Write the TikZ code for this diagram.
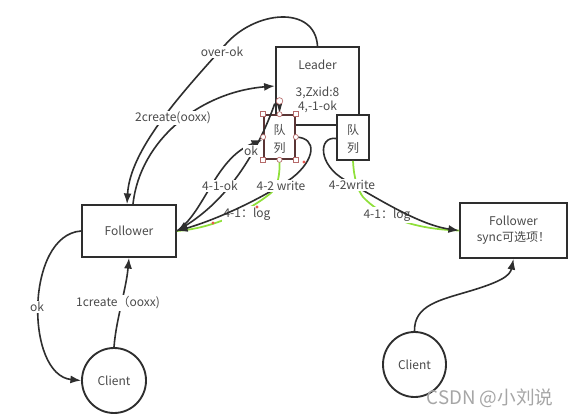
\documentclass[tikz,border=0pt]{standalone}
\usepackage{fontspec}
\setmainfont{Noto Sans CJK SC}
\usetikzlibrary{arrows.meta,shapes.geometric,calc}
\definecolor{ln}{HTML}{2E2E2E}
\definecolor{tx}{HTML}{4A4A4A}
\definecolor{grn}{HTML}{8FE03A}
\definecolor{selb}{HTML}{5A3535}
\definecolor{hnd}{HTML}{B56A6A}
\definecolor{rdot}{HTML}{E8584F}
\begin{document}
\begin{tikzpicture}[x=0.75pt,y=-0.75pt, font=\fontsize{9}{11}\selectfont, text=tx,
 box/.style={draw=ln, line width=1.4pt, fill=white, inner sep=0pt},
 conn/.style={draw=ln, line width=1.2pt},
 arr/.style={conn, -{Latex[length=8pt,width=6pt]}},
 lbl/.style={inner sep=1pt, text=tx},
 wlbl/.style={lbl, fill=white},
 glow/.style={draw=grn, line width=1.3pt},
 qtext/.style={lbl, align=center, font=\fontsize{9}{13.5}\selectfont},
 handle/.style={draw=hnd, fill=white, line width=0.5pt},
]
\useasboundingbox (0,0) rectangle (571,417);
\fill[white] (0,0) rectangle (571,417);

% nodes
\node[box, minimum width=62.7pt, minimum height=58.5pt] (leader) at (317.5,86) {};
\node[lbl] (leadert) at (317.5,65) {Leader};
\node[lbl, align=center] (leaderi) at (317.5,100) {3,Zxid:8\\4,-1-ok};
\node[box, minimum width=24pt, minimum height=33.75pt] (q2) at (353,137.5) {};
\node[qtext] (q2t) at (353,139) {队\\列};
\node[box, draw=selb, line width=1.2pt, minimum width=23.25pt, minimum height=33pt] (q1) at (279.5,137) {};
\node[qtext] (q1t) at (279.5,139) {队\\列};
\node[box, minimum width=70.5pt, minimum height=39pt] (fl) at (129,231) {Follower};
\node[box, minimum width=80.25pt, minimum height=41.25pt, align=center, font=\fontsize{9}{12}\selectfont] (fr) at (513.5,230.5) {Follower\\sync可选项！};
\node[ellipse, draw=ln, line width=1.4pt, fill=white, minimum width=48pt, minimum height=48.75pt, inner sep=0pt] (cl) at (114,380.5) {Client};
\node[ellipse, draw=ln, line width=1.4pt, fill=white, minimum width=47.25pt, minimum height=48.75pt, inner sep=0pt] (cr) at (414.5,364.5) {Client};

% green highlighted log connectors
\draw[glow] (q1.south) .. controls (280,175) and (278,186) .. (271,193) .. controls (250,210) and (215,228) .. (fl.east);
\draw[glow] (q2.south) .. controls (354,180) and (358,190) .. (363,197) .. controls (380,215) and (410,229) .. (fr.west);
\node[wlbl] (log1) at (247,214) {4-1：log};
\node[wlbl] (log2) at (387,215) {4-1：log};

% connectors
\draw[arr] (cl.north) .. controls (116,320) and (126,290) .. (fl.south);
\draw[arr] (fl.west) .. controls (25,235) and (25,375) .. (cl.west);
\draw[arr] (leader.north) .. controls (315,5) and (255,10) .. (225,45) .. controls (180,95) and (130,150) .. ($(fl.north)+(-2,0)$);
\draw[arr] ($(fl.north)+(4,0)$) .. controls (140,140) and (200,92) .. (leader.west);
\draw[arr] (fl.east) .. controls (205,212) and (215,158) .. ($(q1.west)+(-1,3)$);
\draw[arr] ($(leader.north west)!0.72!(leader.south west)$) .. controls (262,140) and (235,195) .. (fl.east);
\draw[arr] (q1.east) .. controls (318,138) and (315,160) .. (292,178) .. controls (260,200) and (215,220) .. (fl.east);
\draw[arr] ($(q2.west)+(0,1)$) .. controls (318,136) and (318,165) .. (345,180) .. controls (380,200) and (420,225) .. (fr.west);
\draw[arr] (cr.north) .. controls (414,305) and (440,300) .. (470,291) .. controls (500,282) and (510,276) .. (fr.south);

% red dots
\fill[rdot] (304,162) circle[radius=1.3pt];
\fill[rdot] (257,207) circle[radius=1.3pt];
\fill[rdot] (213,223) circle[radius=1.3pt];

% labels
\node[wlbl] (l1) at (118,303) {1create（ooxx)};
\node[wlbl] (l2) at (37,307) {ok};
\node[wlbl] (l3) at (222,52) {over-ok};
\node[wlbl] (l4) at (173,118) {2create(ooxx)};
\node[wlbl] (l5) at (251,151) {ok};
\node[wlbl] (l6) at (220,186) {4-1-ok};
\node[wlbl] (l7) at (281,186) {4-2 write};
\node[wlbl] (l8) at (352,185) {4-2write};

% selection handles on q1
\fill[ln] (277,104) -- (282,104) -- (279.5,113) -- cycle;
\filldraw[handle] (279.5,101) circle[radius=2.5pt];
\foreach \a in {north west, north east, south west, south east}
  \filldraw[handle] ($(q1.\a)+(-2.5,-2.5)$) rectangle ++(5,5);
\foreach \a in {north, south, west, east}
  \filldraw[handle] (q1.\a) circle[radius=1.9pt];

% watermark
\node[text=black!35, font=\fontsize{14}{14}\selectfont] (wm) at (490,398) {CSDN @小刘说};
\end{tikzpicture}
\end{document}
